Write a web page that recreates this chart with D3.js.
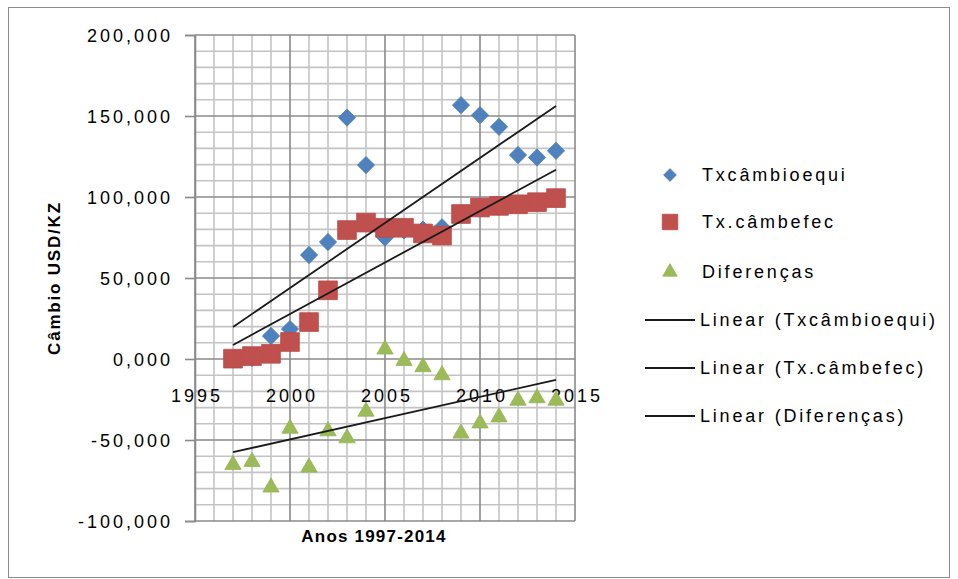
<!DOCTYPE html>
<html>
<head>
<meta charset="utf-8">
<script src="https://cdn.jsdelivr.net/npm/d3@7"></script>
<style>
  html, body { margin: 0; padding: 0; background: #fff; }
  svg { display: block; }
  text { font-family: "Liberation Sans", Arial, sans-serif; fill: #000; }
</style>
</head>
<body>
<svg id="chart" width="958" height="579"></svg>
<script>
// Anos e séries (câmbio USD/KZ)
const years = [1997, 1998, 1999, 2000, 2001, 2002, 2003, 2004, 2005, 2006, 2007, 2008, 2009, 2010, 2011, 2012, 2013, 2014];
const txCambioEqui = [0.3, 0.6, 14.2, 18.5, 64.2, 72.2, 149.0, 119.7, 75.0, 79.4, 79.8, 81.3, 156.7, 150.5, 143.3, 125.9, 124.4, 128.5];
const txCambEfec = [0.2, 1.8, 3.2, 10.5, 22.8, 42.4, 79.6, 84.2, 81.0, 81.0, 77.5, 76.2, 89.5, 93.5, 94.5, 95.5, 96.8, 99.3];
const diferencas = [-64.4, -62.5, -78.3, -42.0, -66.0, -43.6, -47.9, -31.5, 6.9, -0.2, -4.0, -9.0, -45.0, -38.7, -35.0, -24.7, -23.2, -24.7];

const seriesNames = ["Txcâmbioequi", "Tx.câmbefec", "Diferenças"];
const trendNames = ["Linear (Txcâmbioequi)", "Linear (Tx.câmbefec)", "Linear (Diferenças)"];
const xTicks = [1995, 2000, 2005, 2010, 2015];
const yTicks = [-100, -50, 0, 50, 100, 150, 200];
const yTitle = "Câmbio USD/KZ";
const xTitle = "Anos 1997-2014";

const colors = { equi: "#4F81BD", efec: "#C0504D", dif: "#9BBB59" };

const svg = d3.select("#chart");

// chart area frame
svg.append("rect").attr("x", 8.5).attr("y", 7.5).attr("width", 941).attr("height", 570)
  .attr("fill", "#fff").attr("stroke", "#8c8c8c").attr("stroke-width", 1);

const x = d3.scaleLinear().domain([1995, 2015]).range([195, 575]);
const y = d3.scaleLinear().domain([-100, 200]).range([521, 35]);

const ptLocale = d3.formatLocale({ decimal: ",", thousands: ".", grouping: [3], currency: ["", ""], minus: "-" });
const fmt = ptLocale.format(".3f");

// gridlines: minor (1 ano / 10 unidades), then major
const grid = svg.append("g");
const minorX = d3.range(1995, 2015.5, 1).filter(v => v % 5 !== 0);
const minorY = d3.range(-100, 200.5, 10).filter(v => v % 50 !== 0);
grid.selectAll(".mx").data(minorX).join("line")
  .attr("x1", d => x(d)).attr("x2", d => x(d)).attr("y1", y(200)).attr("y2", y(-100))
  .attr("stroke", "#c4c4c4").attr("stroke-width", 1.6);
grid.selectAll(".my").data(minorY).join("line")
  .attr("x1", x(1995)).attr("x2", x(2015)).attr("y1", d => y(d)).attr("y2", d => y(d))
  .attr("stroke", "#c4c4c4").attr("stroke-width", 1.6);
grid.selectAll(".Mx").data(xTicks).join("line")
  .attr("x1", d => x(d)).attr("x2", d => x(d)).attr("y1", y(200)).attr("y2", y(-100))
  .attr("stroke", "#8a8a8a").attr("stroke-width", 1.6);
grid.selectAll(".My").data(yTicks).join("line")
  .attr("x1", x(1995)).attr("x2", x(2015)).attr("y1", d => y(d)).attr("y2", d => y(d))
  .attr("stroke", "#8a8a8a").attr("stroke-width", 1.6);

// y axis with outside ticks
const yAxis = svg.append("g").attr("transform", `translate(${x(1995)},0)`)
  .call(d3.axisLeft(y).tickValues(yTicks).tickSize(10).tickPadding(16).tickFormat(fmt));
yAxis.select(".domain").attr("stroke", "#8a8a8a").attr("stroke-width", 1.6);
yAxis.selectAll(".tick line").attr("stroke", "#8a8a8a").attr("stroke-width", 1.6);
yAxis.selectAll(".tick text")
  .attr("font-size", 18).attr("letter-spacing", 3).attr("fill", "#000")
  .style("font-family", "Liberation Sans, Arial, sans-serif")
  .attr("dy", "0.36em").attr("x", -22);

// x axis labels sitting under the zero line
const xAxis = svg.append("g").attr("transform", `translate(0,${y(0)})`)
  .call(d3.axisBottom(x).tickValues(xTicks).tickSize(0).tickPadding(0).tickFormat(d3.format("d")));
xAxis.select(".domain").remove();
xAxis.selectAll(".tick text")
  .attr("font-size", 18).attr("letter-spacing", 3).attr("fill", "#000")
  .style("font-family", "Liberation Sans, Arial, sans-serif")
  .attr("y", 37).attr("dy", "0.36em").attr("dx", 1.5);

// axis titles
svg.append("text").attr("transform", `translate(54,${(y(200) + y(-100)) / 2}) rotate(-90)`)
  .attr("text-anchor", "middle").attr("dy", "0.36em")
  .attr("font-size", 17).attr("font-weight", "bold").attr("letter-spacing", 1.8)
  .text(yTitle);
svg.append("text").attr("x", 374).attr("y", 536).attr("dy", "0.36em")
  .attr("text-anchor", "middle")
  .attr("font-size", 17).attr("font-weight", "bold").attr("letter-spacing", 1.2)
  .text(xTitle);

// marker shapes
const diamond = d3.symbol().type(d3.symbolDiamond2).size(190)();
const square = d3.symbol().type(d3.symbolSquare).size(350)();
const triangle = d3.symbol().type(d3.symbolTriangle2).size(190)();

function markers(values, path, fill, stroke, dyShift) {
  svg.append("g").selectAll("path").data(years.map((yr, i) => [yr, values[i]])).join("path")
    .attr("d", path)
    .attr("transform", d => `translate(${x(d[0])},${y(d[1]) + (dyShift || 0)})`)
    .attr("fill", fill).attr("stroke", stroke).attr("stroke-width", 0.8);
}
markers(txCambioEqui, diamond, colors.equi, "#4A7EBB");
markers(txCambEfec, square, colors.efec, "#B94A47");
markers(diferencas, triangle, colors.dif, "#94B455", 1.5);

// least-squares trend lines
function linearFit(xs, ys) {
  const mx = d3.mean(xs), my = d3.mean(ys);
  const b = d3.sum(xs, (v, i) => (v - mx) * (ys[i] - my)) / d3.sum(xs, v => (v - mx) * (v - mx));
  return v => my + b * (v - mx);
}
const x0 = d3.min(years), x1 = d3.max(years);
[txCambioEqui, txCambEfec, diferencas].forEach(vals => {
  const f = linearFit(years, vals);
  svg.append("line")
    .attr("x1", x(x0)).attr("y1", y(f(x0))).attr("x2", x(x1)).attr("y2", y(f(x1)))
    .attr("stroke", "#1a1a1a").attr("stroke-width", 1.8);
});

// legend
const legend = svg.append("g");
const legY = [175, 222, 272, 320, 368, 416];
const legShapes = [[diamond, colors.equi, "#4A7EBB"], [d3.symbol().type(d3.symbolSquare).size(240)(), colors.efec, "#B94A47"], [d3.symbol().type(d3.symbolTriangle2).size(150)(), colors.dif, "#94B455"]];
seriesNames.forEach((name, i) => {
  legend.append("path").attr("d", legShapes[i][0])
    .attr("transform", `translate(670,${legY[i] + (i === 2 ? 1 : 0)})`)
    .attr("fill", legShapes[i][1]).attr("stroke", legShapes[i][2]).attr("stroke-width", 0.8)
    .attr("transform", `translate(670,${legY[i]}) scale(${i === 0 ? 0.75 : 1})`);
  legend.append("text").attr("x", 702).attr("y", legY[i]).attr("dy", "0.36em")
    .attr("font-size", 18).attr("letter-spacing", 2.8).text(name);
});
trendNames.forEach((name, i) => {
  const ly = legY[i + 3];
  legend.append("line").attr("x1", 645).attr("x2", 695).attr("y1", ly).attr("y2", ly)
    .attr("stroke", "#1a1a1a").attr("stroke-width", 1.8);
  legend.append("text").attr("x", 700).attr("y", ly).attr("dy", "0.36em")
    .attr("font-size", 18).attr("letter-spacing", 2.8).text(name);
});
</script>
</body>
</html>
